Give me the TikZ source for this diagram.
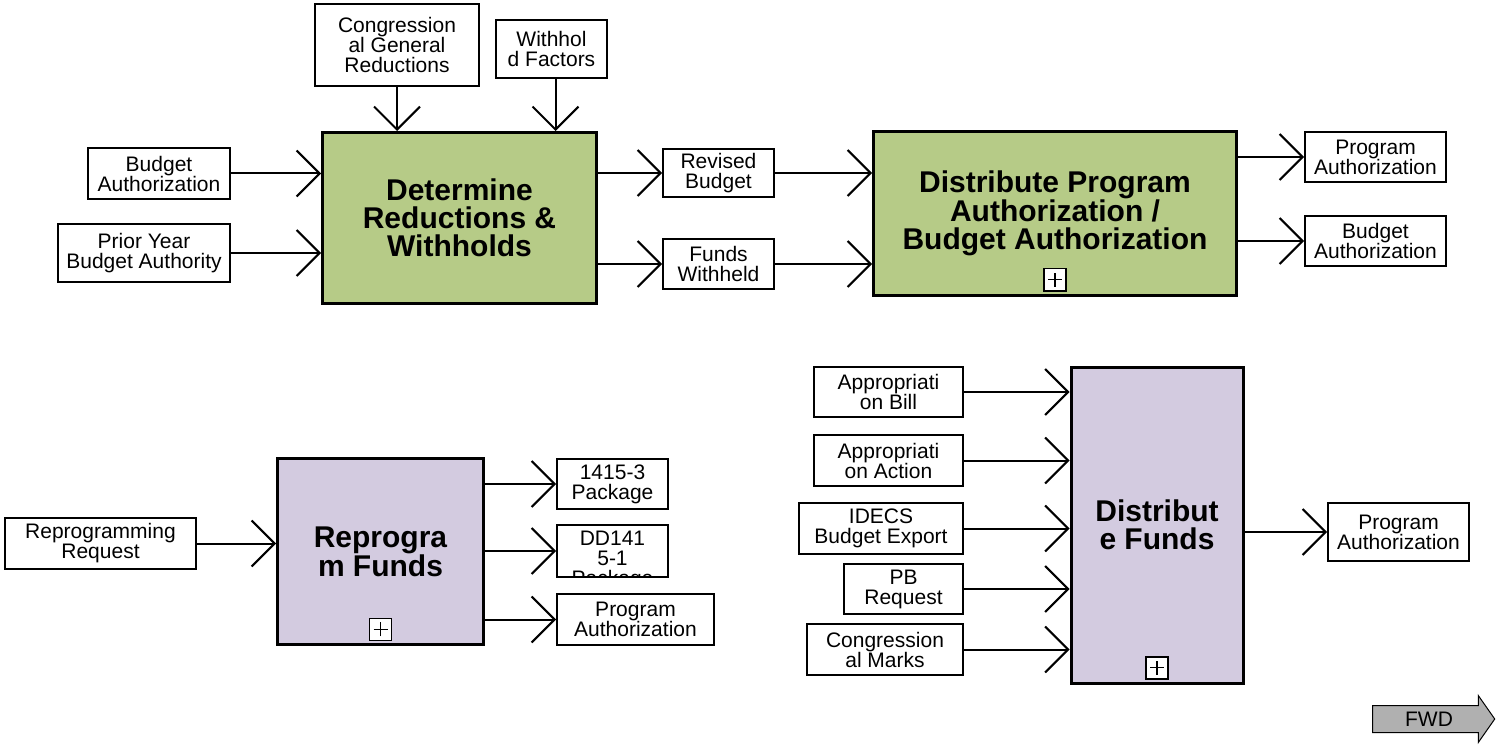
\documentclass[tikz,border=0pt]{standalone}
\usepackage{fontspec}
\setmainfont{Liberation Sans}
\usetikzlibrary{arrows.meta,positioning,shapes.arrows}
\definecolor{procgreen}{RGB}{182,203,135}
\definecolor{procpurple}{RGB}{211,203,224}
\definecolor{fwdgray}{RGB}{176,176,176}
\tikzset{
	databox/.style={
		draw, line width=2pt, fill=white, align=center,
		inner sep=0pt, text=black,
		font=\fontsize{21pt}{20pt}\selectfont
	},
	procbox/.style={
		draw, line width=3pt, align=center,
		inner sep=0pt, text=black,
		font=\fontsize{30pt}{28pt}\selectfont\bfseries
	},
	plusbox/.style={
		draw, line width=1.5pt, fill=white,
		minimum size=22pt, inner sep=0pt,
		path picture = {
			\draw[line width=1.3pt]
			([xshift=-7pt]path picture bounding box.center) --
			([xshift=7pt]path picture bounding box.center)
			([yshift=-7pt]path picture bounding box.center) --
			([yshift=7pt]path picture bounding box.center);
		}
	},
	fwdarrow/.style={
		single arrow, draw, line width=1pt, fill=fwdgray,
		minimum height=122pt, single arrow head extend=10pt,
		single arrow tip angle=110, text height=15pt, text depth=0pt,
		inner ysep=5.5pt, inner xsep=0pt,
		font=\fontsize{21pt}{20pt}\selectfont
	},
	flow/.style={line width=2pt, -{Straight Barb[length=23pt,width=46pt]}}
}

\begin{document}
\begin{tikzpicture}[x=1pt,y=-1pt]
	\useasboundingbox (0,0) rectangle (1497,746);
	% determine reductions and withholds
	\node[procbox, fill=procgreen, minimum width=274pt, minimum height=171pt] (det) at (459.5,218) {Determine\\Reductions \&\\Withholds};
	\node[databox, minimum width=164pt, minimum height=82pt] (cgr) at (397,45) {Congression\\al General\\Reductions};
	\node[databox, minimum width=111pt, minimum height=58pt] (wf) at (551.5,49) {Withhol\\d Factors};
	\node[databox, minimum width=142pt, minimum height=51pt] (ba) at (159,173.5) {Budget\\Authorization};
	\node[databox, minimum width=172pt, minimum height=58pt] (pyba) at (144,253) {Prior Year\\Budget Authority};
	\node[databox, minimum width=111pt, minimum height=48pt] (rb) at (718.5,173) {Revised\\Budget};
	\node[databox, minimum width=111pt, minimum height=50pt] (fw) at (718.5,264) {Funds\\Withheld};
	\draw[flow] (cgr.south) -- (cgr.south |- det.north);
	\draw[flow] ([xshift=4pt]wf.south) -- ([xshift=4pt]wf.south |- det.north);
	\draw[flow] (ba.east) -- (ba.east -| det.west);
	\draw[flow] (pyba.east) -- (pyba.east -| det.west);
	\draw[flow] (det.east |- rb.west) -- (rb.west);
	\draw[flow] (det.east |- fw.west) -- (fw.west);

	% distribute program / budget authorization
	\node[procbox, fill=procgreen, minimum width=363pt, minimum height=163pt] (dist) at (1055,213.5) {Distribute Program\\Authorization /\\Budget Authorization};
	\node[plusbox, above=5pt of dist.south] (distplus) {};
	\node[databox, minimum width=141pt, minimum height=50pt] (pa1) at (1375.5,157) {Program\\Authorization};
	\node[databox, minimum width=141pt, minimum height=50pt] (ba2) at (1375.5,241) {Budget\\Authorization};
	\draw[flow] (rb.east) -- (rb.east -| dist.west);
	\draw[flow] (fw.east) -- (fw.east -| dist.west);
	\draw[flow] (dist.east |- pa1.west) -- (pa1.west);
	\draw[flow] (dist.east |- ba2.west) -- (ba2.west);

	% reprogram funds
	\node[procbox, fill=procpurple, minimum width=206pt, minimum height=186pt] (rep) at (380.5,551.5) {Reprogra\\m Funds};
	\node[plusbox, above=5pt of rep.south] (repplus) {};
	\node[databox, minimum width=191pt, minimum height=51pt] (rr) at (100.5,543.5) {Reprogramming\\Request};
	\node[databox, minimum width=111pt, minimum height=50pt] (p3) at (612.5,484) {1415-3\\Package};
	\node[databox, minimum width=111pt, minimum height=52pt] (dd) at (612.5,551) {};
	\begin{scope}
		\clip ([shift={(1pt,1pt)}]dd.south west) rectangle ([shift={(-1pt,-1pt)}]dd.north east);
		\node[databox, draw=none, fill=none, anchor=north, yshift=-6pt] (ddtext) at (dd.north) {DD141\\5-1\\Package};
	\end{scope}
	\node[databox, minimum width=157pt, minimum height=51pt] (pa2) at (635.5,619.5) {Program\\Authorization};
	\draw[flow] (rr.east) -- (rr.east -| rep.west);
	\draw[flow] (rep.east |- p3.west) -- (p3.west);
	\draw[flow] (rep.east |- dd.west) -- (dd.west);
	\draw[flow] (rep.east |- pa2.west) -- (pa2.west);

	% distribute funds
	\node[procbox, fill=procpurple, minimum width=172pt, minimum height=316pt] (dfund) at (1157,525) {Distribut\\e Funds};
	\node[plusbox, above=5pt of dfund.south] (dfundplus) {};
	\node[databox, minimum width=149pt, minimum height=50pt] (ab) at (888.5,392) {Appropriati\\on Bill};
	\node[databox, minimum width=149pt, minimum height=51pt] (aa) at (888.5,460.5) {Appropriati\\on Action};
	\node[databox, minimum width=164pt, minimum height=51pt] (idecs) at (881,528.5) {IDECS\\Budget Export};
	\node[databox, minimum width=119pt, minimum height=50pt] (pbr) at (903.5,589) {PB\\Request};
	\node[databox, minimum width=156pt, minimum height=51pt] (cm) at (885,649.5) {Congression\\al Marks};
	\node[databox, minimum width=141pt, minimum height=58pt] (pa3) at (1398.5,532) {Program\\Authorization};
	\foreach \src in {ab,aa,idecs,pbr,cm}
		\draw[flow] (\src.east) -- (\src.east -| dfund.west);
	\draw[flow] (dfund.east |- pa3.west) -- (pa3.west);

	% forward button
	\node[fwdarrow] (fwd) at (1429,719) {FWD};
\end{tikzpicture}
\end{document}
